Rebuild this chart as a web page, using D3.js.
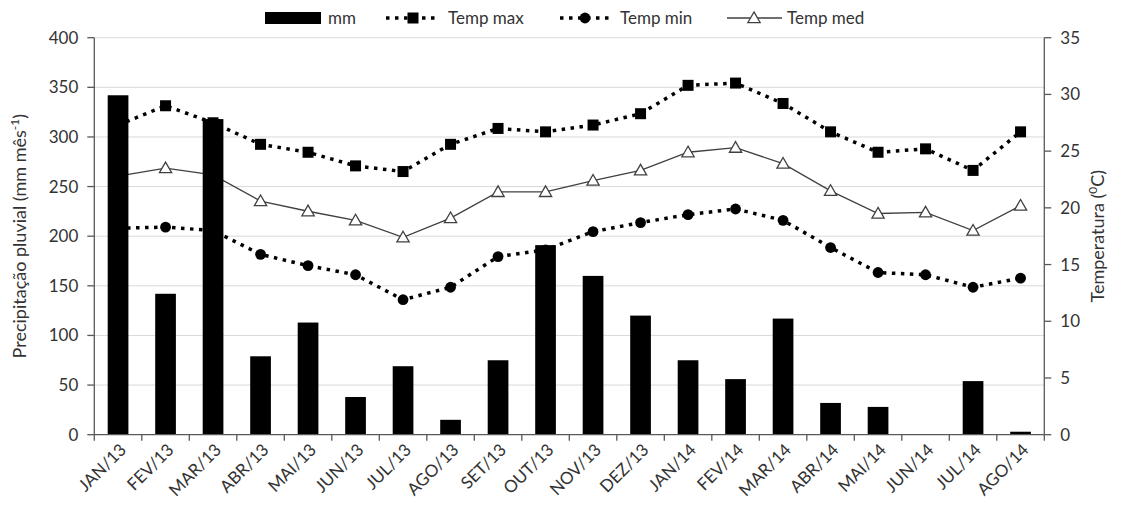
<!DOCTYPE html>
<html>
<head>
<meta charset="utf-8">
<script src="https://cdn.jsdelivr.net/npm/d3@7"></script>
<style>
  body { margin: 0; background: #fff; }
  svg { display: block; font-family: Lato, "Open Sans", sans-serif; }
  .grid line { stroke: #d9d9d9; stroke-width: 1; }
  .axis line, .axis path { stroke: #595959; stroke-width: 1.3; fill: none; }
  .tick-label, .legend text, .title { fill: #333; font-size: 17px; }
  .title { font-size: 18px; }
</style>
</head>
<body>
<script>
const width = 1121,
  height = 510;

// dados
const months = ['JAN/13', 'FEV/13', 'MAR/13', 'ABR/13', 'MAI/13', 'JUN/13', 'JUL/13', 'AGO/13', 'SET/13', 'OUT/13',
  'NOV/13', 'DEZ/13', 'JAN/14', 'FEV/14', 'MAR/14', 'ABR/14', 'MAI/14', 'JUN/14', 'JUL/14', 'AGO/14'];
const mm = [342, 142, 318, 79, 113, 38, 69, 15, 75, 191, 160, 120, 75, 56, 117, 32, 28, 0, 54, 3];
const tempMax = [27.3, 29.0, 27.5, 25.6, 24.9, 23.7, 23.2, 25.6, 27.0, 26.7, 27.3, 28.3, 30.8, 31.0, 29.2, 26.7, 24.9, 25.2, 23.3, 26.7];
const tempMin = [18.2, 18.3, 18.0, 15.9, 14.9, 14.1, 11.9, 13.0, 15.7, 16.3, 17.9, 18.7, 19.4, 19.9, 18.9, 16.5, 14.3, 14.1, 13.0, 13.8];
const tempMed = [22.8, 23.5, 22.9, 20.6, 19.7, 18.9, 17.4, 19.1, 21.4, 21.4, 22.4, 23.3, 24.9, 25.3, 23.9, 21.5, 19.5, 19.6, 18.0, 20.2];
const mmTicks = [0, 50, 100, 150, 200, 250, 300, 350, 400];
const tempTicks = [0, 5, 10, 15, 20, 25, 30, 35];

const margin = { left: 94.3, right: 1044.3, top: 37.7, bottom: 434.7 };

const x = d3.scaleBand().domain(months).range([margin.left, margin.right]).paddingInner(0).paddingOuter(0);
const yL = d3.scaleLinear().domain([0, 400]).range([margin.bottom, margin.top]);
const yR = d3.scaleLinear().domain([0, 35]).range([margin.bottom, margin.top]);
const cx = d => x(d) + x.bandwidth() / 2;

const svg = d3.select('body').append('svg').attr('width', width).attr('height', height);

// linhas de grade
svg.append('g').attr('class', 'grid')
  .selectAll('line').data(mmTicks.slice(1)).join('line')
  .attr('x1', margin.left).attr('x2', margin.right)
  .attr('y1', d => yL(d)).attr('y2', d => yL(d));

// séries de temperatura (desenhadas antes das barras)
const line = d3.line().x((d, i) => cx(months[i])).y(d => yR(d));

svg.append('path').datum(tempMed).attr('d', line)
  .attr('fill', 'none').attr('stroke', '#404040').attr('stroke-width', 1.3);
svg.append('path').datum(tempMax).attr('d', line)
  .attr('fill', 'none').attr('stroke', '#000').attr('stroke-width', 3.5).attr('stroke-dasharray', '3.5,5.5');
svg.append('path').datum(tempMin).attr('d', line)
  .attr('fill', 'none').attr('stroke', '#000').attr('stroke-width', 3.5).attr('stroke-dasharray', '3.5,5.5');

const tri = d3.symbol().type(d3.symbolTriangle).size(65);

svg.append('g').selectAll('rect').data(tempMax).join('rect')
  .attr('x', (d, i) => cx(months[i]) - 5.5).attr('y', d => yR(d) - 5.5)
  .attr('width', 11).attr('height', 11).attr('fill', '#000');
svg.append('g').selectAll('circle').data(tempMin).join('circle')
  .attr('cx', (d, i) => cx(months[i])).attr('cy', d => yR(d)).attr('r', 5.4).attr('fill', '#000');
svg.append('g').selectAll('path').data(tempMed).join('path')
  .attr('d', tri)
  .attr('transform', (d, i) => `translate(${cx(months[i])},${yR(d) + 1})`)
  .attr('fill', '#fff').attr('stroke', '#404040').attr('stroke-width', 1.3);

// barras de precipitação
const barW = 20.7;
svg.append('g').selectAll('rect').data(mm).join('rect')
  .attr('x', (d, i) => cx(months[i]) - barW / 2)
  .attr('y', d => yL(d))
  .attr('width', barW)
  .attr('height', d => yL(0) - yL(d))
  .attr('fill', '#000');

// eixos
const axes = svg.append('g').attr('class', 'axis');
axes.append('line').attr('x1', margin.left).attr('x2', margin.left).attr('y1', margin.top).attr('y2', margin.bottom);
axes.append('line').attr('x1', margin.right).attr('x2', margin.right).attr('y1', margin.top).attr('y2', margin.bottom);
axes.append('line').attr('x1', margin.left).attr('x2', margin.right).attr('y1', margin.bottom).attr('y2', margin.bottom);

axes.selectAll('.tl').data(mmTicks).join('line').attr('class', 'tl')
  .attr('x1', margin.left - 7).attr('x2', margin.left).attr('y1', d => yL(d)).attr('y2', d => yL(d));
axes.selectAll('.tr').data(tempTicks).join('line').attr('class', 'tr')
  .attr('x1', margin.right).attr('x2', margin.right + 7).attr('y1', d => yR(d)).attr('y2', d => yR(d));
const bounds = months.map(m => x(m)).concat([margin.right]);
axes.selectAll('.tb').data(bounds).join('line').attr('class', 'tb')
  .attr('x1', d => d).attr('x2', d => d).attr('y1', margin.bottom).attr('y2', margin.bottom + 6);

svg.append('g').selectAll('text').data(mmTicks).join('text').attr('class', 'tick-label')
  .attr('x', margin.left - 16).attr('y', d => yL(d)).attr('dy', '0.35em')
  .attr('text-anchor', 'end').text(d => d);
svg.append('g').selectAll('text').data(tempTicks).join('text').attr('class', 'tick-label')
  .attr('x', margin.right + 16).attr('y', d => yR(d)).attr('dy', '0.35em')
  .attr('text-anchor', 'start').text(d => d);
svg.append('g').selectAll('text').data(months).join('text').attr('class', 'tick-label')
  .attr('transform', d => `translate(${cx(d) + 5},${margin.bottom + 12}) rotate(-45)`)
  .attr('dy', '0.35em').attr('text-anchor', 'end').text(d => d);

// títulos dos eixos
const tl = svg.append('text').attr('class', 'title')
  .attr('transform', `translate(26,${(margin.top + margin.bottom) / 2}) rotate(-90)`)
  .attr('text-anchor', 'middle');
tl.append('tspan').text('Precipitação pluvial (mm mês');
tl.append('tspan').attr('dy', -7).attr('font-size', 12).text('-1');
tl.append('tspan').attr('dy', 7).text(')');

const tr = svg.append('text').attr('class', 'title')
  .attr('transform', `translate(1104,${(margin.top + margin.bottom) / 2}) rotate(-90)`)
  .attr('text-anchor', 'middle');
tr.append('tspan').text('Temperatura (');
tr.append('tspan').attr('dy', -7).attr('font-size', 12).text('0');
tr.append('tspan').attr('dy', 7).text('C)');

// legenda
const lg = svg.append('g').attr('class', 'legend');
const ly = 18;
lg.append('rect').attr('x', 265).attr('y', ly - 6).attr('width', 56).attr('height', 12).attr('fill', '#000');
lg.append('text').attr('x', 328).attr('y', ly).attr('dy', '0.35em').text('mm');

lg.append('line').attr('x1', 386).attr('x2', 436).attr('y1', ly).attr('y2', ly)
  .attr('stroke', '#000').attr('stroke-width', 3.5).attr('stroke-dasharray', '3.5,5.5');
lg.append('rect').attr('x', 413 - 5.5).attr('y', ly - 5.5).attr('width', 11).attr('height', 11).attr('fill', '#000');
lg.append('text').attr('x', 448).attr('y', ly).attr('dy', '0.35em').text('Temp max');

lg.append('line').attr('x1', 560).attr('x2', 610).attr('y1', ly).attr('y2', ly)
  .attr('stroke', '#000').attr('stroke-width', 3.5).attr('stroke-dasharray', '3.5,5.5');
lg.append('circle').attr('cx', 585).attr('cy', ly).attr('r', 5.4).attr('fill', '#000');
lg.append('text').attr('x', 620).attr('y', ly).attr('dy', '0.35em').text('Temp min');

lg.append('line').attr('x1', 727).attr('x2', 782).attr('y1', ly).attr('y2', ly)
  .attr('stroke', '#404040').attr('stroke-width', 1.3);
lg.append('path').attr('d', tri).attr('transform', `translate(754,${ly + 1})`)
  .attr('fill', '#fff').attr('stroke', '#404040').attr('stroke-width', 1.3);
lg.append('text').attr('x', 787).attr('y', ly).attr('dy', '0.35em').text('Temp med');
</script>
</body>
</html>
